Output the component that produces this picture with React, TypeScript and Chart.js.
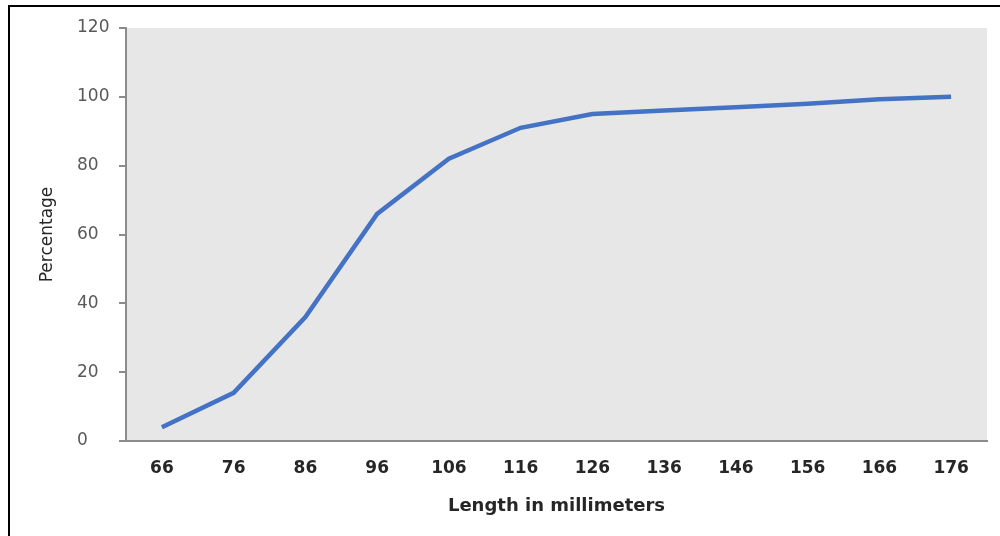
import React, { useEffect, useRef } from "react";
import { Chart, registerables } from "chart.js";

Chart.register(...registerables);

const categories = ["66", "76", "86", "96", "106", "116", "126", "136", "146", "156", "166", "176"];
const percentages = [4, 14, 36, 66, 82, 91, 95, 96, 97, 98, 99.3, 100];
const xTitle = "Length in millimeters";
const yTitle = "Percentage";

const plotBg = {
  id: "plotBg",
  beforeDraw(chart: any) {
    const { ctx, chartArea } = chart;
    ctx.save();
    ctx.fillStyle = "#e7e7e7";
    ctx.fillRect(chartArea.left, chartArea.top, chartArea.right - chartArea.left, chartArea.bottom - chartArea.top);
    ctx.restore();
  },
};

const yTitlePlugin = {
  id: "yTitlePlugin",
  afterDraw(chart: any) {
    const { ctx, chartArea } = chart;
    ctx.save();
    ctx.translate(48, (chartArea.top + chartArea.bottom) / 2);
    ctx.rotate(-Math.PI / 2);
    ctx.fillStyle = "#262626";
    ctx.font = "17px 'DejaVu Sans'";
    ctx.textAlign = "center";
    ctx.textBaseline = "middle";
    ctx.fillText(yTitle, 0, 0);
    ctx.restore();
  },
};

export default function App() {
  const ref = useRef<HTMLCanvasElement | null>(null);

  useEffect(() => {
    document.body.style.margin = "0";
    const chart = new Chart(ref.current as HTMLCanvasElement, {
      type: "line",
      data: {
        labels: categories,
        datasets: [
          {
            data: percentages,
            borderColor: "#4472c4",
            borderWidth: 4.5,
            pointRadius: 0,
            tension: 0,
            fill: false,
          },
        ],
      },
      options: {
        animation: false,
        responsive: false,
        maintainAspectRatio: false,
        layout: { padding: { left: 77, top: 28, right: 13, bottom: 0 } },
        plugins: { legend: { display: false }, tooltip: { enabled: false } },
        scales: {
          x: {
            offset: true,
            grid: { display: false, drawTicks: false },
            border: { display: true, color: "#8c8c8c", width: 2 },
            ticks: {
              color: "#262626",
              font: { family: "DejaVu Sans", size: 17, weight: "bold" },
              padding: 17,
              maxRotation: 0,
              autoSkip: false,
            },
            title: {
              display: true,
              text: xTitle,
              color: "#262626",
              font: { family: "DejaVu Sans", size: 18, weight: "bold" },
              padding: { top: 0, bottom: 19 },
            },
            afterFit(scale: any) {
              scale.height = 95;
            },
          },
          y: {
            min: 0,
            max: 120,
            grid: { display: true, drawOnChartArea: false, drawTicks: true, tickLength: 7, color: "#8c8c8c", lineWidth: 2 },
            border: { display: true, color: "#8c8c8c", width: 2 },
            ticks: {
              stepSize: 20,
              color: "#595959",
              font: { family: "DejaVu Sans", size: 17 },
              padding: 6,
              crossAlign: "far",
            },
            title: { display: false },
            afterFit(scale: any) {
              scale.width = 49;
            },
          },
        },
      },
      plugins: [plotBg, yTitlePlugin],
    });
    return () => chart.destroy();
  }, []);

  return (
    <div style={{ position: "fixed", left: 0, top: 0, width: 1000, height: 536, background: "#fff" }}>
      <canvas ref={ref} width={1000} height={536} style={{ position: "absolute", left: 0, top: 0 }} />
      <div style={{ position: "absolute", left: 8, top: 5, width: 992, height: 1.5, background: "#000" }} />
      <div style={{ position: "absolute", left: 8, top: 5, width: 1.5, height: 531, background: "#000" }} />
    </div>
  );
}
